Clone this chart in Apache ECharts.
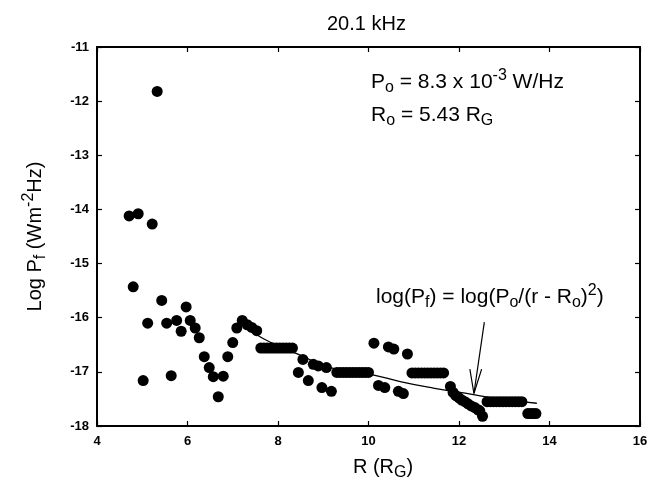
<!DOCTYPE html>
<html>
<head>
<meta charset="utf-8">
<script src="https://cdn.jsdelivr.net/npm/echarts@6/dist/echarts.min.js"></script>
<style>
  html, body { margin: 0; padding: 0; background: #fff; }
  #chart { width: 660px; height: 486px; }
</style>
</head>
<body>
<div id="chart"></div>
<script>
// tick values
const xTickValues = [4, 6, 8, 10, 12, 14, 16]
const yTickValues = [-18, -17, -16, -15, -14, -13, -12, -11]

const scatterPoints = [
  [4.71, -14.12], [4.91, -14.08], [5.22, -14.27], [5.33, -11.82],
  [4.80, -15.43], [5.43, -15.68], [5.12, -16.10], [5.02, -17.16],
  [5.54, -16.10], [5.64, -17.07], [5.76, -16.05], [5.86, -16.25],
  [5.97, -15.80], [6.06, -16.05], [6.17, -16.19], [6.26, -16.37],
  [6.37, -16.72], [6.48, -16.92], [6.57, -17.09], [6.68, -17.46],
  [6.79, -17.08], [6.89, -16.72], [7.00, -16.46], [7.09, -16.19],
  [7.21, -16.05], [7.32, -16.13], [7.42, -16.18], [7.53, -16.24],
  [8.45, -17.01], [8.55, -16.77], [8.67, -17.16], [8.78, -16.86],
  [8.89, -16.89], [9.07, -16.92], [8.97, -17.29], [9.18, -17.36],
  [10.12, -16.47], [10.44, -16.54], [10.56, -16.58], [10.86, -16.67],
  [10.22, -17.25], [10.36, -17.29], [10.66, -17.36], [10.77, -17.40],
  [11.81, -17.27], [11.87, -17.38], [11.93, -17.44], [12.00, -17.48],
  [12.06, -17.52], [12.13, -17.55], [12.20, -17.59], [12.27, -17.63],
  [12.35, -17.66], [12.42, -17.70], [12.46, -17.72], [12.52, -17.82]
]

// flat runs of overlapping points
const bandPoints = [
  [7.62, -16.56], [7.69, -16.56], [7.76, -16.56], [7.83, -16.56], [7.90, -16.56],
  [7.97, -16.56], [8.04, -16.56], [8.11, -16.56], [8.18, -16.56], [8.25, -16.56],
  [8.32, -16.56],
  [9.30, -17.01], [9.37, -17.01], [9.44, -17.01], [9.51, -17.01], [9.58, -17.01],
  [9.65, -17.01], [9.72, -17.01], [9.79, -17.01], [9.86, -17.01], [9.93, -17.01],
  [10.00, -17.01],
  [10.96, -17.02], [11.03, -17.02], [11.10, -17.02], [11.17, -17.02], [11.24, -17.02],
  [11.31, -17.02], [11.38, -17.02], [11.45, -17.02], [11.52, -17.02], [11.59, -17.02],
  [11.66, -17.02],
  [12.62, -17.55], [12.69, -17.55], [12.76, -17.55], [12.83, -17.55], [12.90, -17.55],
  [12.97, -17.55], [13.04, -17.55], [13.11, -17.55], [13.18, -17.55], [13.25, -17.55],
  [13.32, -17.55], [13.39, -17.55],
  [13.52, -17.77], [13.58, -17.77], [13.64, -17.77], [13.70, -17.77]
]

// fitted curve as drawn in the figure
const fitLine = [
  [7.20, -16.12], [7.50, -16.30], [7.85, -16.46], [8.40, -16.66], [9.20, -16.93],
  [10.07, -17.05], [10.70, -17.18], [11.43, -17.30], [12.32, -17.42], [12.90, -17.50],
  [13.72, -17.58]
]

const arrowShaft = [[12.56, -16.08], [12.33, -17.40]]
const arrowHead = [[12.24, -16.95], [12.33, -17.40], [12.50, -16.95]]

const font = 'Liberation Sans, Arial, sans-serif'
const subSup = {
  sub: { fontSize: 16, padding: [11, 0, 0, 0], fontFamily: font, color: '#000' },
  sup: { fontSize: 16, padding: [0, 0, 12, 0], fontFamily: font, color: '#000' }
}

const chart = echarts.init(document.getElementById('chart'))

const axisBase = {
  type: 'value',
  axisLine: { show: true, onZero: false, lineStyle: { color: '#000', width: 2 } },
  axisTick: { show: true, inside: true, length: 5, lineStyle: { color: '#000', width: 1.2 } },
  splitLine: { show: false }
}

const tickLabel = { fontFamily: font, fontSize: 13, fontWeight: 'bold', color: '#000' }

const option = {
  animation: false,
  backgroundColor: '#fff',
  title: {
    text: '20.1 kHz',
    left: 322,
    top: 9,
    textStyle: { fontFamily: font, fontSize: 20, fontWeight: 'normal', color: '#000' }
  },
  grid: { left: 97, right: 20, top: 47, bottom: 57 },
  xAxis: [
    Object.assign({}, axisBase, {
      position: 'bottom',
      min: xTickValues[0],
      max: xTickValues[xTickValues.length - 1],
      interval: xTickValues[1] - xTickValues[0],
      name: '{t|R (R}{sub|G}{t|)}',
      nameLocation: 'middle',
      nameGap: 28,
      nameTextStyle: {
        padding: [0, 0, 0, 29],
        rich: Object.assign({ t: { fontSize: 20, fontFamily: font, color: '#000' } }, subSup)
      },
      axisLabel: Object.assign({ margin: 9 }, tickLabel)
    }),
    Object.assign({}, axisBase, {
      position: 'top',
      min: xTickValues[0],
      max: xTickValues[xTickValues.length - 1],
      interval: xTickValues[1] - xTickValues[0],
      axisLabel: { show: false }
    })
  ],
  yAxis: [
    Object.assign({}, axisBase, {
      position: 'left',
      min: yTickValues[0],
      max: yTickValues[yTickValues.length - 1],
      interval: 1,
      name: '{t|Log P}{sub|f}{t| (Wm}{sup|-2}{t|Hz)}',
      nameLocation: 'middle',
      nameGap: 48,
      nameTextStyle: {
        rich: Object.assign({ t: { fontSize: 20, fontFamily: font, color: '#000' } }, subSup)
      },
      axisLabel: Object.assign({ margin: 8 }, tickLabel)
    }),
    Object.assign({}, axisBase, {
      position: 'right',
      min: yTickValues[0],
      max: yTickValues[yTickValues.length - 1],
      interval: 1,
      axisLabel: { show: false }
    })
  ],
  graphic: [
    {
      type: 'text',
      left: 371,
      top: 68,
      style: {
        text: '{t|P}{sub|o}{t| = 8.3 x 10}{sup|-3}{t| W/Hz}',
        rich: Object.assign({ t: { fontSize: 21, fontFamily: font, color: '#000' } }, subSup)
      }
    },
    {
      type: 'text',
      left: 371,
      top: 105,
      style: {
        text: '{t|R}{sub|o}{t| = 5.43 R}{sub|G}',
        rich: Object.assign({ t: { fontSize: 21, fontFamily: font, color: '#000' } }, subSup)
      }
    },
    {
      type: 'text',
      left: 376,
      top: 283,
      style: {
        text: '{t|log(P}{sub|f}{t|) = log(P}{sub|o}{t|/(r - R}{sub|o}{t|)}{sup|2}{t|)}',
        rich: Object.assign({ t: { fontSize: 21, fontFamily: font, color: '#000' } }, subSup)
      }
    }
  ],
  series: [
    {
      type: 'line',
      data: fitLine,
      smooth: true,
      symbol: 'none',
      lineStyle: { color: '#000', width: 1.3 },
      z: 1
    },
    {
      type: 'scatter',
      data: scatterPoints.concat(bandPoints),
      symbol: 'circle',
      symbolSize: 11,
      itemStyle: { color: '#000', opacity: 1 },
      z: 2
    },
    {
      type: 'line',
      data: arrowShaft,
      symbol: 'none',
      lineStyle: { color: '#000', width: 1.2 },
      z: 3
    },
    {
      type: 'line',
      data: arrowHead,
      symbol: 'none',
      lineStyle: { color: '#000', width: 1.2 },
      z: 3
    }
  ]
}

chart.setOption(option)
</script>
</body>
</html>
